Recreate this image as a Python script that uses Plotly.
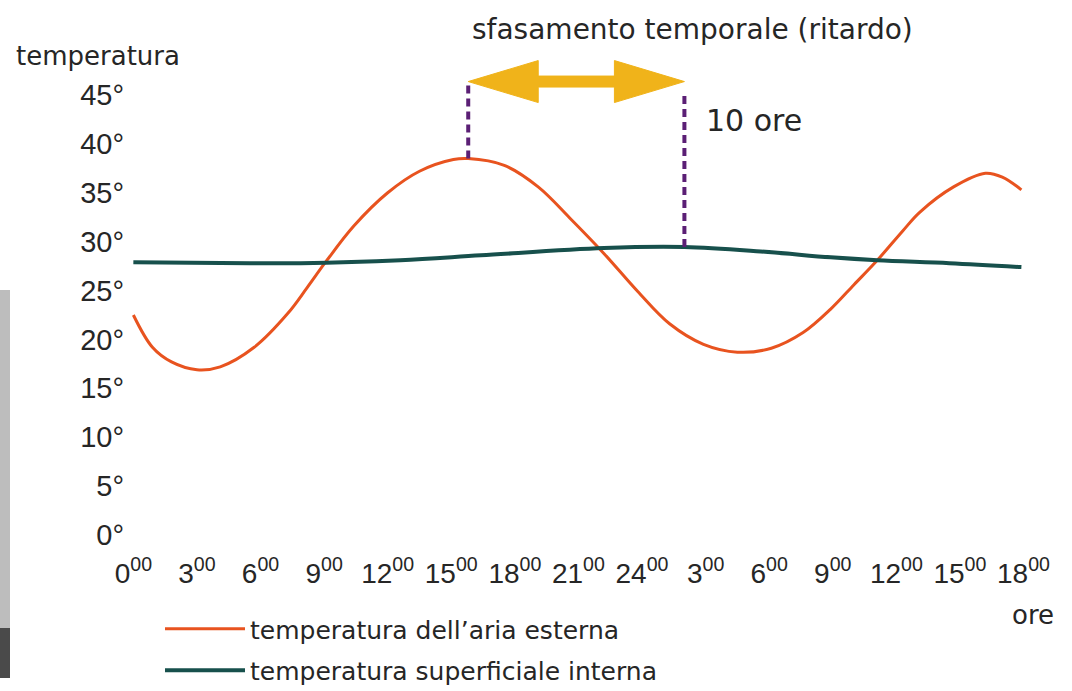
import plotly.graph_objects as go

# ---------------- data ----------------
hours_ext = [0, 0.9, 1.8, 3.0, 4.1, 5.7, 7.3, 8.2, 9.1, 10.4, 12.0, 13.5, 15.1, 15.8,
             17.5, 19.1, 20.6, 22.2, 23.8, 25.3, 26.9, 28.5, 30.1, 31.6, 32.9, 34.0,
             35.1, 36.3, 37.1, 38.7, 40.2, 41.0, 41.9]
temp_ext = [22.5, 19.2, 17.7, 16.9, 17.2, 19.2, 22.7, 25.3, 28.0, 31.6, 35.0, 37.2, 38.4, 38.5,
            37.8, 35.6, 32.4, 28.8, 24.9, 21.6, 19.5, 18.7, 19.1, 20.7, 23.1, 25.6,
            28.1, 31.1, 33.0, 35.6, 37.0, 36.6, 35.3]

hours_int = [0, 5.5, 7.9, 12.6, 16.4, 22.2, 26.0, 29.6, 32.9, 35.1, 38.5, 41.9]
temp_int = [27.9, 27.8, 27.8, 28.1, 28.6, 29.35, 29.45, 29.0, 28.4, 28.1, 27.8, 27.4]

x_tickvals = [0, 3, 6, 9, 12, 15, 18, 21, 24, 27, 30, 33, 36, 39, 42]
x_ticktext = ["0<sup>00</sup>", "3<sup>00</sup>", "6<sup>00</sup>", "9<sup>00</sup>",
              "12<sup>00</sup>", "15<sup>00</sup>", "18<sup>00</sup>", "21<sup>00</sup>",
              "24<sup>00</sup>", "3<sup>00</sup>", "6<sup>00</sup>", "9<sup>00</sup>",
              "12<sup>00</sup>", "15<sup>00</sup>", "18<sup>00</sup>"]
y_tickvals = [0, 5, 10, 15, 20, 25, 30, 35, 40, 45]
y_ticktext = ["0°", "5°", "10°", "15°", "20°", "25°", "30°", "35°", "40°", "45°"]

series_names = ["temperatura dell’aria esterna", "temperatura superficiale interna"]

peak_ext_hour = 15.8     # peak of outside air temperature
peak_ext_temp = 38.5
peak_int_hour = 26.0     # peak of inner surface temperature
peak_int_temp = 29.45
lag_label = "10 ore"

# ---------------- layout geometry ----------------
W, H = 1072, 691
ML, MR, MT, MB = 127, 40, 60, 131
XR = [-0.3, 42.4]
YR = [-2.557, 48.58]
PW = W - ML - MR
PH = H - MT - MB

def px_x(p):  # pixel -> paper x
    return (p - ML) / PW

def px_y(p):  # pixel -> paper y
    return (H - MB - p) / PH

def dx(p):  # pixel length -> hours
    return p * (XR[1] - XR[0]) / PW

def dy(p):  # pixel length -> degrees
    return p * (YR[1] - YR[0]) / PH

FONT = "DejaVu Sans"
NUMFONT = "Liberation Sans"
TXT = "#262626"

fig = go.Figure()
fig.add_trace(go.Scatter(x=hours_ext, y=temp_ext, mode="lines", name=series_names[0],
                         line=dict(color="#E8531F", width=3, shape="spline", smoothing=1.0),
                         legendgroup="a"))
fig.add_trace(go.Scatter(x=hours_int, y=temp_int, mode="lines", name=series_names[1],
                         line=dict(color="#17504C", width=4, shape="spline", smoothing=1.0),
                         legendgroup="b"))

shapes = []
# dashed markers of the two peaks
top_ext = peak_ext_temp + dy(73)
top_int = peak_int_temp + dy(155)
shapes.append(dict(type="line", xref="x", yref="y", x0=peak_ext_hour, x1=peak_ext_hour,
                   y0=peak_ext_temp, y1=top_ext,
                   line=dict(color="#5B1F75", width=4, dash="8px,5px")))
shapes.append(dict(type="line", xref="x", yref="y", x0=peak_int_hour, x1=peak_int_hour,
                   y0=peak_int_temp, y1=top_int,
                   line=dict(color="#5B1F75", width=4, dash="8px,5px")))

# gold double arrow
ay = peak_ext_temp + dy(77)
xl, xr = peak_ext_hour, peak_int_hour
hl, hh, st = dx(70), dy(21), dy(5.5)
pts = [(xl, ay), (xl + hl, ay + hh), (xl + hl, ay + st), (xr - hl, ay + st), (xr - hl, ay + hh),
       (xr, ay), (xr - hl, ay - hh), (xr - hl, ay - st), (xl + hl, ay - st), (xl + hl, ay - hh)]
path = "M " + " L ".join(f"{a:.4f},{b:.4f}" for a, b in pts) + " Z"
shapes.append(dict(type="path", xref="x", yref="y", path=path,
                   fillcolor="#F0B31A", line=dict(color="#F0B31A", width=1)))

# grey strip at the left edge of the page
shapes.append(dict(type="rect", xref="paper", yref="paper", x0=px_x(0), x1=px_x(10),
                   y0=px_y(628), y1=px_y(290), fillcolor="#BDBDBD", line=dict(width=0), layer="below"))
shapes.append(dict(type="rect", xref="paper", yref="paper", x0=px_x(0), x1=px_x(10),
                   y0=px_y(678), y1=px_y(628), fillcolor="#4A4A4A", line=dict(width=0), layer="below"))

annotations = [
    dict(text="sfasamento temporale (ritardo)", xref="paper", yref="paper",
         x=px_x(692), y=px_y(30), xanchor="center", yanchor="middle", showarrow=False,
         font=dict(family=FONT, size=28, color=TXT)),
    dict(text=lag_label, xref="paper", yref="paper",
         x=px_x(704), y=px_y(120), xanchor="left", yanchor="middle", showarrow=False,
         font=dict(family=FONT, size=30, color=TXT)),
    dict(text="temperatura", xref="paper", yref="paper",
         x=px_x(14), y=px_y(56), xanchor="left", yanchor="middle", showarrow=False,
         font=dict(family=FONT, size=26, color=TXT)),
    dict(text="ore", xref="paper", yref="paper",
         x=px_x(1056), y=px_y(615), xanchor="right", yanchor="middle", showarrow=False,
         font=dict(family=FONT, size=26, color=TXT)),
]

fig.update_layout(
    width=W, height=H,
    margin=dict(l=ML, r=MR, t=MT, b=MB, pad=0, autoexpand=False),
    paper_bgcolor="white", plot_bgcolor="white",
    font=dict(family=FONT, color=TXT),
    shapes=shapes, annotations=annotations,
    showlegend=True,
    legend=dict(x=px_x(160), y=px_y(606), xanchor="left", yanchor="top",
                orientation="v", font=dict(family=FONT, size=25, color=TXT),
                bgcolor="rgba(0,0,0,0)", itemwidth=80, tracegroupgap=6),
    xaxis=dict(range=XR, tickmode="array", tickvals=x_tickvals, ticktext=x_ticktext,
               showgrid=False, zeroline=False, showline=False, ticks="",
               automargin=False, ticklabelstandoff=-6,
               tickfont=dict(family=NUMFONT, size=28, color=TXT)),
    yaxis=dict(range=YR, tickmode="array", tickvals=y_tickvals, ticktext=y_ticktext,
               showgrid=False, zeroline=False, showline=False, ticks="",
               automargin=False, ticklabelstandoff=2,
               tickfont=dict(family=NUMFONT, size=29, color=TXT)),
)

fig.write_html("out.html", config={"displayModeBar": False},
               post_script="document.body.style.margin='0';")
